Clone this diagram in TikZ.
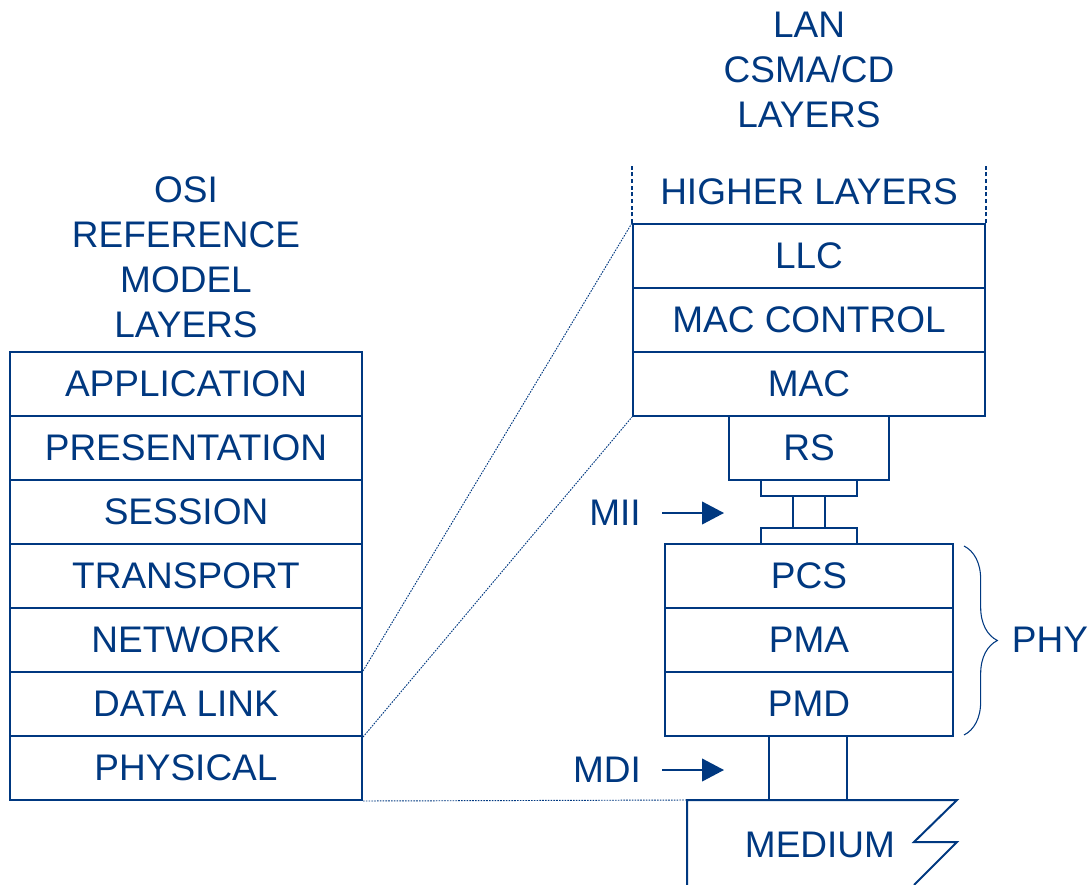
\documentclass[tikz,border=0pt]{standalone}
\usepackage{fontspec}
\setmainfont{Liberation Sans}
\usetikzlibrary{arrows.meta,decorations.pathreplacing}
\definecolor{ieeeblue}{RGB}{0,56,128}
\begin{document}
\begin{tikzpicture}[x=0.75pt,y=-0.75pt,
  every node/.style={text=ieeeblue,font=\fontsize{27.75}{33.75}\selectfont},
  layer/.style={draw=ieeeblue,line width=1.5pt,inner sep=0pt,minimum height=48pt},
  osi/.style={layer,minimum width=264pt},
  lan/.style={layer,minimum width=264pt},
  phy/.style={layer,minimum width=216pt},
  plain/.style={draw=none,inner sep=0pt,align=center},
  dots/.style={draw=ieeeblue,line width=0.7pt,dash pattern=on 1.2pt off 0.9pt},
  arr/.style={draw=ieeeblue,line width=1.5pt,-{Triangle[length=16.5pt,width=17pt]}}]
\useasboundingbox (0,0) rectangle (1089,885);
% OSI stack
\node[osi] (app) at (186,384) {APPLICATION};
\node[osi] (pres) at (186,448) {PRESENTATION};
\node[osi] (sess) at (186,512) {SESSION};
\node[osi] (trans) at (186,576) {TRANSPORT};
\node[osi] (net) at (186,640) {NETWORK};
\node[osi] (dl) at (186,704) {DATA LINK};
\node[osi] (phys) at (186,768) {PHYSICAL};
\node[plain] (osititle) at (186,257) {OSI\\REFERENCE\\MODEL\\LAYERS};
% LAN stack
\node[plain] (lantitle) at (809,70) {LAN\\CSMA/CD\\LAYERS};
\node[lan] (llc) at (809,256) {LLC};
\node[lan] (macc) at (809,320) {MAC CONTROL};
\node[lan] (mac) at (809,384) {MAC};
\node[plain] (higher) at (809,192) {HIGHER LAYERS};
\draw[ieeeblue,line width=0.8pt,dash pattern=on 3pt off 2pt] (llc.north west) -- ++(0,-59);
\draw[ieeeblue,line width=0.8pt,dash pattern=on 3pt off 2pt] (llc.north east) -- ++(0,-59);
\node[layer,minimum width=120pt] (rs) at (809,448) {RS};
\node[layer,minimum width=72pt,minimum height=12pt] (miitop) at (809,488) {};
\node[layer,minimum width=24pt,minimum height=24pt] (miimid) at (809,512) {};
\node[layer,minimum width=72pt,minimum height=12pt] (miibot) at (809,536) {};
\node[phy] (pcs) at (809,576) {PCS};
\node[phy] (pma) at (809,640) {PMA};
\node[phy] (pmd) at (809,704) {PMD};
\node[layer,minimum width=58.5pt] (mdi) at (808,768) {};
% medium
\coordinate (medtl) at (687,800);
\draw[ieeeblue,line width=1.5pt] (687,885) -- (medtl) -- (957,800) -- (914,842) -- (957,842) -- (914,885);
\node[plain] (medium) at (820,845) {MEDIUM};
% labels and arrows
\node[plain] (mii) at (615,513) {MII};
\coordinate (miiarrow) at (724,513);
\draw[arr] (662,513) -- (miiarrow);
\node[plain] (mdilbl) at (607,770) {MDI};
\coordinate (mdiarrow) at (724,770);
\draw[arr] (662,770) -- (mdiarrow);
% brace
\draw[ieeeblue,line width=0.8pt,decorate,decoration={brace,amplitude=25pt}] (964,546) -- (964,735);
\node[plain] (phylbl) at (1050,640) {PHY};
% dotted connectors
\draw[dots] (dl.north east) -- (llc.north west);
\draw[dots] (dl.south east) -- (mac.south west);
\draw[dots] (phys.south east) -- (medtl);
\end{tikzpicture}
\end{document}
